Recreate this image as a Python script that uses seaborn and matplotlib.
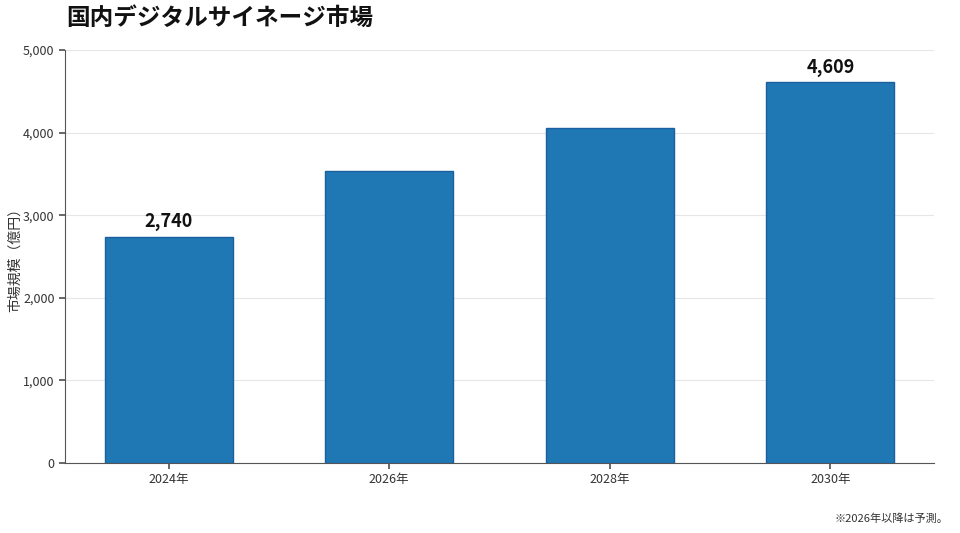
import matplotlib
matplotlib.use("Agg")
import matplotlib.pyplot as plt
import seaborn as sns
import pandas as pd
from matplotlib.ticker import FuncFormatter

years = ["2024年", "2026年", "2028年", "2030年"]
values = [2740, 3535, 4056, 4609]
labeled = [True, False, False, True]

sns.set_theme(style="white")
plt.rcParams['font.family'] = ['Noto Sans CJK JP', 'DejaVu Sans']

df = pd.DataFrame({"year": years, "value": values})

fig = plt.figure(figsize=(9.6, 5.33), dpi=100)
ax = fig.add_axes([65/960, 1-463/533, (934-65)/960, (463-50)/533])

sns.barplot(data=df, x="year", y="value", ax=ax, color="#1f77b4",
            saturation=1, width=0.58, edgecolor="#1a5f9e", linewidth=1, zorder=3)

ax.set_ylim(0, 5000)
ax.set_xlim(-0.47, 3.47)
ax.set_yticks([0, 1000, 2000, 3000, 4000, 5000])
ax.yaxis.set_major_formatter(FuncFormatter(lambda v, p: f"{int(v):,}"))
ax.grid(axis="y", color="#e6e6e6", linewidth=0.8, zorder=0)
ax.set_axisbelow(True)
for s in ["top", "right"]:
    ax.spines[s].set_visible(False)
for s in ["left", "bottom"]:
    ax.spines[s].set_color("#555555")
    ax.spines[s].set_linewidth(0.8)
ax.tick_params(axis="both", which="both", length=4, color="#555555", labelsize=9, labelcolor="#333333", left=True, bottom=True)
ax.set_xlabel("")
ax.set_ylabel("市場規模（億円）", fontsize=10, color="#333333")
ax.yaxis.set_label_coords(-0.049, 0.5)

for i, (v, lab) in enumerate(zip(values, labeled)):
    if lab:
        ax.annotate(f"{v:,}", (i, v), xytext=(0, 4), textcoords="offset points",
                    ha="center", va="bottom", fontsize=13, fontweight="bold", color="#111111")

fig.text(66/960, 1-18/533, "国内デジタルサイネージ市場", fontsize=17, fontweight="bold",
         ha="left", va="center", color="#111111")
fig.text(948/960, 1-519/533, "※2026年以降は予測。", fontsize=8, ha="right", va="center", color="#333333")

fig.savefig("out.png", dpi=100)
